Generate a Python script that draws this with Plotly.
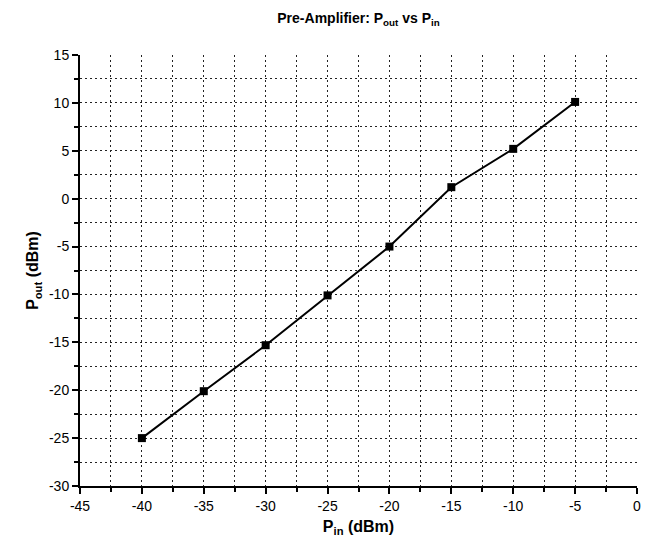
import plotly.graph_objects as go

p_in = [-40, -35, -30, -25, -20, -15, -10, -5]
p_out = [-25.0, -20.1, -15.3, -10.1, -5.0, 1.2, 5.2, 10.1]

x_ticks = [-45, -40, -35, -30, -25, -20, -15, -10, -5, 0]
x_labels = ["-45", "-40", "-35", "-30", "-25", "-20", "-15", "-10", "-5", "0"]
y_ticks = [15, 10, 5, 0, -5, -10, -15, -20, -25, -30]
y_labels = ["15", "10", "5", "0", "-5", "-10", "-15", "-20", "-25", "-30"]

FONT = "Liberation Sans, Arial, sans-serif"
GRID_DASH = "1.5px,3.5px"

axis_common = dict(
    showline=True, linecolor="black", linewidth=2,
    ticks="outside", ticklen=6, tickwidth=1.5, tickcolor="black",
    showgrid=True, gridcolor="#222", gridwidth=1.2, griddash=GRID_DASH,
    zeroline=False,
    tickfont=dict(family=FONT, size=14, color="black"),
    minor=dict(dtick=2.5, showgrid=True, gridcolor="#222", gridwidth=1.2,
               griddash=GRID_DASH, ticks="outside", ticklen=4, tickcolor="black"),
)

fig = go.Figure()
fig.add_trace(go.Scatter(
    x=p_in, y=p_out, mode="lines+markers",
    line=dict(color="black", width=2),
    marker=dict(symbol="square", size=8, color="black"),
    showlegend=False,
))

fig.update_layout(
    width=646, height=553,
    margin=dict(l=80, r=5, t=55, b=67),
    paper_bgcolor="white", plot_bgcolor="white",
    font=dict(family=FONT, color="black"),
    title=dict(text="<b>Pre-Amplifier: P<sub>out</sub> vs P<sub>in</sub></b>",
               x=0.555, xanchor="center", y=0.968, yanchor="middle",
               font=dict(family=FONT, size=14, color="black")),
    xaxis=dict(range=[-45, 0], tickvals=x_ticks, ticktext=x_labels,
               title=dict(text="<b>P<sub>in</sub> (dBm)</b>", standoff=8,
                          font=dict(family=FONT, size=16, color="black")),
               **axis_common),
    yaxis=dict(range=[-30, 15], tickvals=y_ticks, ticktext=y_labels,
               title=dict(text="<b>P<sub>out</sub> (dBm)</b>", standoff=6,
                          font=dict(family=FONT, size=16, color="black")),
               **axis_common),
)

fig.write_html("out.html")
